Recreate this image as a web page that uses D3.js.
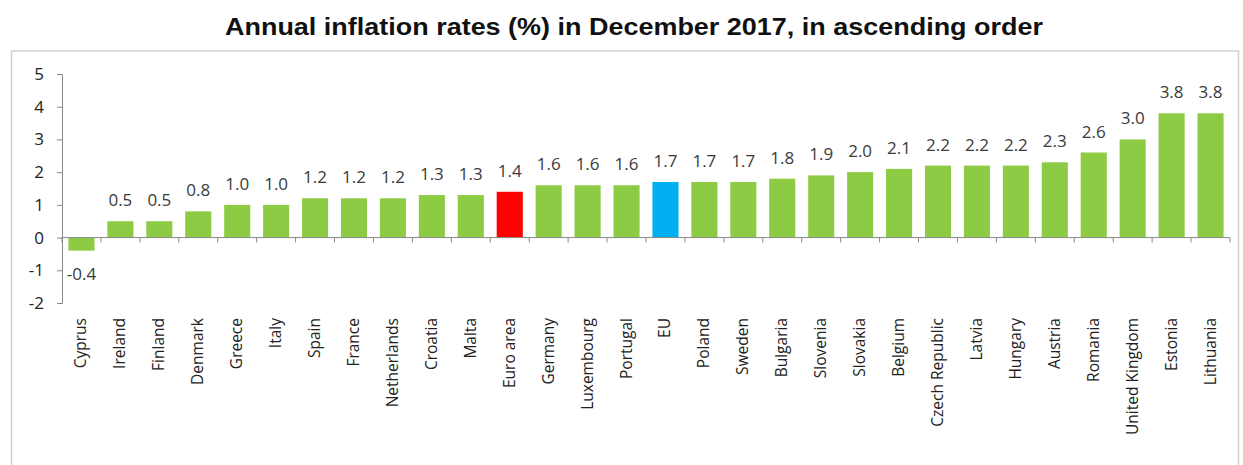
<!DOCTYPE html>
<html><head><meta charset="utf-8">
<script src="https://cdn.jsdelivr.net/npm/d3@7"></script>
<style>body{margin:0;background:#fff;} svg{display:block;}</style>
</head><body>
<svg id="c" width="1243" height="465"></svg>
<script>
const categories = ["Cyprus","Ireland","Finland","Denmark","Greece","Italy","Spain","France","Netherlands","Croatia","Malta","Euro area","Germany","Luxembourg","Portugal","EU","Poland","Sweden","Bulgaria","Slovenia","Slovakia","Belgium","Czech Republic","Latvia","Hungary","Austria","Romania","United Kingdom","Estonia","Lithuania"];
const values = [-0.4,0.5,0.5,0.8,1.0,1.0,1.2,1.2,1.2,1.3,1.3,1.4,1.6,1.6,1.6,1.7,1.7,1.7,1.8,1.9,2.0,2.1,2.2,2.2,2.2,2.3,2.6,3.0,3.8,3.8];
const highlights = {"Euro area":"#ff0000","EU":"#00b0f0"};
const yTicks = [-2,-1,0,1,2,3,4,5];
const title = "Annual inflation rates (%) in December 2017, in ascending order";

const svg = d3.select("#c");
const font = "'Open Sans', 'Liberation Sans', sans-serif";
const fmtMinus = s => s.replace(/\u2212/g,"-");
// outer frame
svg.append("path").attr("d","M11.5,465 V51 H1238.5 V465").attr("fill","none").attr("stroke","#cfcfcf").attr("stroke-width",1.5);

svg.append("text").attr("x",225).attr("y",35).attr("text-anchor","start")
  .attr("textLength",818).attr("lengthAdjust","spacingAndGlyphs")
  .attr("font-family","'Liberation Sans', Arial, sans-serif").attr("font-weight","bold").attr("font-size",24).attr("fill","#111").text(title);

const x = d3.scaleBand().domain(categories).range([62,1230]).paddingInner(0.33).paddingOuter(0.165);
const y = d3.scaleLinear().domain([-2,5]).range([303,74]);

// y axis
const ya = svg.append("g").attr("transform","translate(62,0)")
  .call(d3.axisLeft(y).tickValues(yTicks).tickSize(5).tickPadding(13).tickFormat(d => fmtMinus(d3.format("d")(d))));
ya.select(".domain").attr("stroke","#888");
ya.selectAll(".tick line").attr("stroke","#888");
ya.selectAll("text").attr("font-family",font).attr("font-size",17).attr("fill","#222");

// bars
svg.append("g").selectAll("rect").data(categories).join("rect")
  .attr("x",d=>x(d)).attr("width",x.bandwidth())
  .attr("y",(d,i)=>y(Math.max(0,values[i])))
  .attr("height",(d,i)=>Math.abs(y(values[i])-y(0)))
  .attr("fill",d=>highlights[d]||"#8dcb45");

// x axis at zero with ticks at boundaries
const xa = svg.append("g");
xa.append("line").attr("x1",62).attr("x2",1230).attr("y1",y(0)).attr("y2",y(0)).attr("stroke","#888");
const step = x.step();
xa.selectAll("line.tk").data(d3.range(categories.length+1)).join("line").attr("class","tk")
  .attr("x1",i=>62+i*step).attr("x2",i=>62+i*step).attr("y1",y(0)).attr("y2",y(0)+5).attr("stroke","#888");

// category labels
svg.append("g").selectAll("text").data(categories).join("text")
  .attr("transform",d=>`translate(${x(d)+x.bandwidth()/2+5},318) rotate(-90)`)
  .attr("text-anchor","end").attr("font-family",font).attr("font-size",15.5).attr("fill","#222").text(d=>d);

// value labels
svg.append("g").selectAll("text").data(categories).join("text")
  .attr("x",d=>x(d)+x.bandwidth()/2)
  .attr("y",(d,i)=>values[i]>=0 ? y(values[i])-15 : y(values[i])+29)
  .attr("text-anchor","middle").attr("font-family",font).attr("font-size",17).attr("fill","#3a3a3a")
  .text((d,i)=>fmtMinus(d3.format(".1f")(values[i])));
</script>
</body></html>
